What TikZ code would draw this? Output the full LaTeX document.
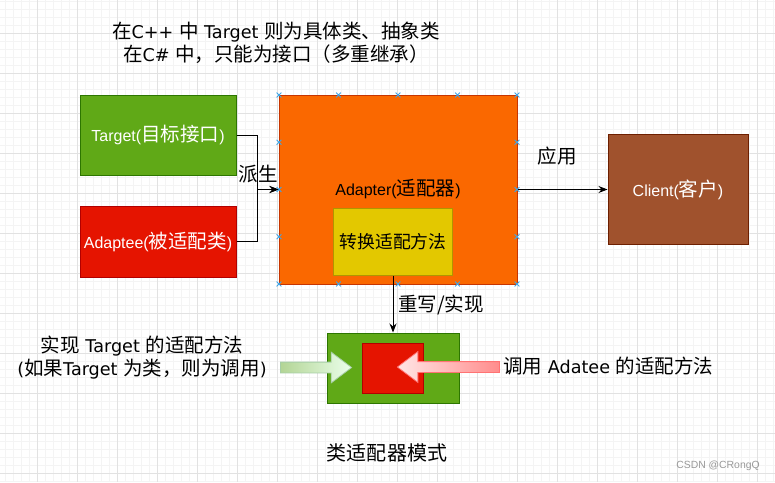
\documentclass[tikz,border=0pt]{standalone}
\usepackage{fontspec}
\setmainfont{Liberation Sans}
\newfontfamily\cjk{Noto Sans CJK SC}[Scale=1.22]
\newfontfamily\hand{DejaVu Sans}[Scale=1.1]
\newcommand{\zh}[1]{{\cjk #1}}
\usetikzlibrary{arrows.meta,positioning,shapes.arrows,shapes.misc}

\definecolor{cgreen}{HTML}{60A917}
\definecolor{cgreenl}{HTML}{2D7600}
\definecolor{cred}{HTML}{E51400}
\definecolor{credl}{HTML}{B20000}
\definecolor{cadp}{HTML}{FA6800}
\definecolor{cadpl}{HTML}{C73500}
\definecolor{cyel}{HTML}{E3C800}
\definecolor{cyell}{HTML}{B09500}
\definecolor{ccli}{HTML}{A0522D}
\definecolor{cclil}{HTML}{6D1F00}
\definecolor{xblue}{HTML}{3EA5E8}
\definecolor{gridmin}{HTML}{F4F4F4}
\definecolor{gridmaj}{HTML}{E2E2E2}

\begin{document}
\begin{tikzpicture}[
  x=1pt, y=-1pt,
  >={Stealth[length=9pt,width=7pt]},
  every node/.style={font=\fontsize{16}{19}\selectfont, inner sep=0pt},
  box/.style={draw, line width=1pt, align=center},
  note/.style={font=\hand\fontsize{16}{23}\selectfont, align=center},
  lbl/.style={font=\cjk\fontsize{16}{19}\selectfont},
  conpt/.style={cross out, draw=xblue, line width=0.8pt, minimum size=4pt},
  blockarr/.style={single arrow, draw, line width=0.8pt, inner sep=5pt,
                   single arrow head extend=10pt, single arrow tip angle=74},
  edge/.style={->, line width=0.9pt},
]
\useasboundingbox (0,0) rectangle (775,482);
\fill[white] (0,0) rectangle (775,482);

% background grid
\foreach \gx in {5,13,...,773} \draw[gridmin] (\gx,0) -- (\gx,482);
\foreach \gy in {1,9,...,481} \draw[gridmin] (0,\gy) -- (775,\gy);
\foreach \gx in {37,77,...,757} \draw[gridmaj] (\gx,0) -- (\gx,482);
\foreach \gy in {33,73,...,473} \draw[gridmaj] (0,\gy) -- (775,\gy);

\node[note] (topnote) at (276,42.5)
  {\zh{在}C++ \zh{中} Target \zh{则为具体类、抽象类}\\
   \zh{在}C\# \zh{中，只能为接口（多重继承）}};

\node[box, fill=cadp, draw=cadpl, minimum width=238pt, minimum height=189pt]
  (adp) at (398,189.5) {Adapter(\zh{适配器})};
\node[box, fill=cgreen, draw=cgreenl, text=white, minimum width=156pt,
  minimum height=80pt, left=42pt of adp.north west, anchor=north east]
  (tgt) {Target(\zh{目标接口})};
\node[box, fill=cred, draw=credl, text=white, minimum width=156pt,
  minimum height=71pt, below=30pt of tgt.south east, anchor=north east]
  (adt) {Adaptee(\zh{被适配类})};
\node[box, fill=cyel, draw=cyell, minimum width=119pt, minimum height=67pt,
  font=\cjk\fontsize{14.6}{18}\selectfont] (conv) at (393,241.5) {转换适配方法};
\node[box, fill=ccli, draw=cclil, text=white, minimum width=140pt,
  minimum height=110pt, right=90pt of adp] (cli) {Client(\zh{客户})};
\node[box, fill=cgreen, draw=cgreenl, minimum width=132pt, minimum height=70pt,
  below=57pt of conv] (obj) {};
\node[box, fill=cred, draw=credl, minimum width=61pt, minimum height=50pt]
  (mtd) at (obj.center) {};

% connection points of the selected box
\foreach \cx in {279,338.5,398,457.5,517} {
  \node[conpt] at (\cx,95) {};
  \node[conpt] at (\cx,284) {};
}
\foreach \cy in {142.25,189.5,236.75} {
  \node[conpt] at (279,\cy) {};
  \node[conpt] at (517,\cy) {};
}

\draw[edge] (tgt.east) -- ++(21,0) |- (adp.west);
\draw[edge] (adt.east) -- ++(21,0) |- (adp.west);
\draw[edge] (adp.east) -- (cli.west);
\draw[edge] (conv.south) -- (obj.north);
\node[lbl] (derive) at (258,174) {派生};
\node[lbl] (apply) at (557,156) {应用};
\node[lbl, anchor=west] (override) at (398,305) {重写/实现};

\node[note] (implnote) at (142,357.5)
  {\zh{实现} Target \zh{的适配方法}\\(\zh{如果}Target \zh{为类，则为调用})};
\node[note, anchor=west] (callnote) at (503,366)
  {\zh{调用} Adatee \zh{的适配方法}};

\node[blockarr, minimum height=71pt, draw=green!45!black!35!white,
  left color=green!35!black!10!cgreen!45, right color=green!8]
  (garr) at (312.5,367.5) {};
\node[blockarr, minimum height=102pt, shape border rotate=180,
  draw=red!55, left color=red!10, right color=red!45]
  (rarr) at (452,367) {};

\node[font=\cjk\fontsize{16.4}{19}\selectfont] (caption) at (387,453) {类适配器模式};
\node[font=\fontsize{10.4}{12}\selectfont, text=gray!80] (wmark) at (718,466)
  {CSDN @CRongQ};
\end{tikzpicture}
\end{document}
